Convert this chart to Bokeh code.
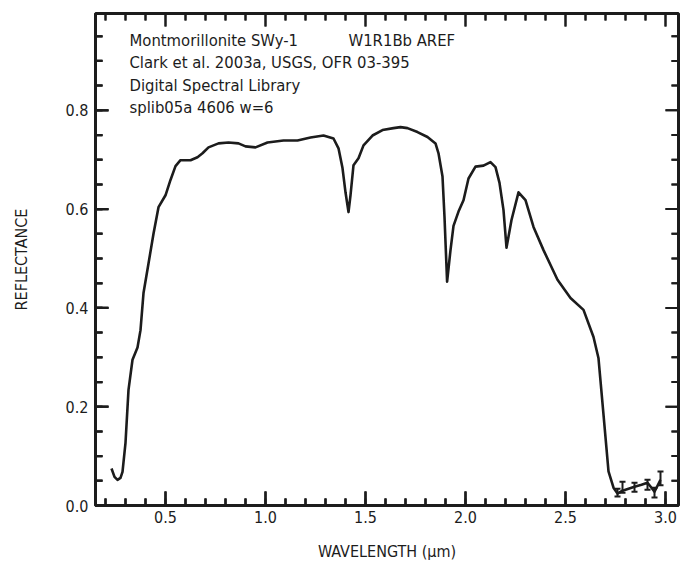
from bokeh.plotting import figure
from bokeh.models import (LinearAxis, SingleIntervalTicker, PrintfTickFormatter,
                          Range1d, Label, Whisker, ColumnDataSource, TeeHead)
from bokeh.embed import file_html
from bokeh.resources import INLINE

# ---- data ----
wavelength = [0.23, 0.245, 0.26, 0.275, 0.285, 0.30, 0.315, 0.335, 0.36, 0.375,
              0.39, 0.415, 0.44, 0.465, 0.50, 0.525, 0.55, 0.575, 0.625, 0.66,
              0.685, 0.715, 0.765, 0.815, 0.865, 0.90, 0.95, 1.01, 1.09, 1.16,
              1.225, 1.29, 1.34, 1.365, 1.385, 1.40, 1.415, 1.425, 1.44, 1.465,
              1.49, 1.535, 1.585, 1.64, 1.675, 1.71, 1.76, 1.81, 1.85, 1.865,
              1.885, 1.895, 1.908, 1.925, 1.94, 1.965, 1.99, 2.015, 2.05, 2.09,
              2.125, 2.15, 2.17, 2.19, 2.205, 2.23, 2.265, 2.30, 2.34, 2.39,
              2.46, 2.525, 2.59, 2.64, 2.665, 2.69, 2.715, 2.74, 2.76, 2.785,
              2.815, 2.845, 2.88, 2.91, 2.93, 2.945, 2.96, 2.975]
reflectance = [0.075, 0.058, 0.052, 0.056, 0.068, 0.127, 0.234, 0.295, 0.320, 0.355,
               0.430, 0.490, 0.550, 0.604, 0.628, 0.659, 0.687, 0.699, 0.699, 0.705,
               0.713, 0.725, 0.733, 0.735, 0.733, 0.727, 0.725, 0.735, 0.739, 0.739,
               0.745, 0.749, 0.743, 0.723, 0.683, 0.634, 0.594, 0.628, 0.689, 0.703,
               0.729, 0.749, 0.760, 0.764, 0.766, 0.764, 0.756, 0.746, 0.733, 0.713,
               0.666, 0.584, 0.453, 0.517, 0.566, 0.595, 0.618, 0.662, 0.686, 0.688,
               0.695, 0.685, 0.653, 0.598, 0.522, 0.578, 0.634, 0.618, 0.564, 0.517,
               0.457, 0.420, 0.396, 0.341, 0.298, 0.184, 0.069, 0.036, 0.024, 0.030,
               0.034, 0.038, 0.042, 0.046, 0.036, 0.028, 0.040, 0.052]

err_wavelength = [2.76, 2.785, 2.845, 2.91, 2.945, 2.975]
err_reflectance = [0.026, 0.037, 0.037, 0.042, 0.026, 0.055]
err_size = [0.008, 0.011, 0.009, 0.010, 0.010, 0.014]

title_lines = ["Montmorillonite SWy-1", "Clark et al. 2003a, USGS, OFR 03-395",
               "Digital Spectral Library", "splib05a 4606 w=6"]
record_label = "W1R1Bb AREF"
x_title = "WAVELENGTH (\u00b5m)"
y_title = "REFLECTANCE"

X0, X1 = 0.15, 3.065
Y0, Y1 = 0.0, 0.996
x_major = [0.5, 1.0, 1.5, 2.0, 2.5, 3.0]
x_minor = [0.2, 0.3, 0.4, 0.6, 0.7, 0.8, 0.9, 1.1, 1.2, 1.3, 1.4, 1.6, 1.7, 1.8, 1.9,
           2.1, 2.2, 2.3, 2.4, 2.6, 2.7, 2.8, 2.9]
y_major = [0.0, 0.2, 0.4, 0.6, 0.8]
y_minor = [0.05, 0.1, 0.15, 0.25, 0.3, 0.35, 0.45, 0.5, 0.55, 0.65, 0.7, 0.75,
           0.85, 0.9, 0.95]

FONT = "DejaVu Sans Condensed, Roboto Condensed, Liberation Sans"
INK = "#1c1c1c"

W, H = 686, 563
BL, BR, BT, BB = 95, 8, 13, 57

p = figure(width=W, height=H, output_backend="svg", toolbar_location=None,
           x_range=Range1d(X0, X1), y_range=Range1d(Y0, Y1),
           x_axis_type=None, y_axis_type=None,
           min_border_left=BL, min_border_right=BR, min_border_top=BT, min_border_bottom=BB)
p.background_fill_color = "white"
p.border_fill_color = "white"
p.outline_line_color = INK
p.outline_line_width = 3
p.xgrid.visible = False
p.ygrid.visible = False

# pixel -> data conversion for tick lengths
dx = (X1 - X0) / (W - BL - BR)
dy = (Y1 - Y0) / (H - BT - BB)


def style_axis(ax, major_in):
    ax.axis_line_color = INK
    ax.axis_line_width = 3
    ax.major_tick_line_color = INK
    ax.minor_tick_line_color = INK
    ax.major_tick_line_width = 2
    ax.minor_tick_line_width = 2
    ax.major_tick_in = major_in
    ax.major_tick_out = 0
    ax.minor_tick_in = 7
    ax.minor_tick_out = 0
    ax.major_label_text_font = FONT
    ax.major_label_text_font_size = "16px"
    ax.major_label_text_color = INK
    ax.axis_label_text_font = FONT
    ax.axis_label_text_font_size = "16px"
    ax.axis_label_text_font_style = "normal"
    ax.axis_label_text_color = INK


xb = LinearAxis(ticker=SingleIntervalTicker(interval=0.5, num_minor_ticks=5),
                formatter=PrintfTickFormatter(format="%.1f"), axis_label=x_title)
style_axis(xb, 14)
xb.major_label_standoff = 5
xb.axis_label_standoff = 16
p.add_layout(xb, "below")

yl = LinearAxis(ticker=SingleIntervalTicker(interval=0.2, num_minor_ticks=4),
                formatter=PrintfTickFormatter(format="%.1f"), axis_label=y_title)
style_axis(yl, 13)
yl.major_label_standoff = 7
yl.axis_label_standoff = 32
p.add_layout(yl, "left")

# ---- inward ticks on all four sides (kept 1px off the frame edge) ----
xt = x_major + x_minor
xl = [14] * len(x_major) + [7] * len(x_minor)
xl_top = [13] * len(x_major) + [7] * len(x_minor)
yt = y_major + y_minor
yln = [13] * len(y_major) + [7] * len(y_minor)

tick_sets = [
    # (x0, y0, x1, y1)
    (xt, [Y0 + 1 * dy] * len(xt), xt, [Y0 + L * dy for L in xl]),
    (xt, [Y1 - L * dy for L in xl_top], xt, [Y1 - 1 * dy] * len(xt)),
    ([X0 + 1 * dx] * len(yt), yt, [X0 + L * dx for L in yln], yt),
    ([X1 - L * dx for L in yln], yt, [X1 - 1 * dx] * len(yt), yt),
]
for x0, y0, x1, y1 in tick_sets:
    p.segment(x0=x0, y0=y0, x1=x1, y1=y1, line_color=INK, line_width=2)
    # same ticks as thin filled bars
    p.quad(left=[min(a, b) - (1 * dx if a == b else 0) for a, b in zip(x0, x1)],
           right=[max(a, b) + (1 * dx if a == b else 0) for a, b in zip(x0, x1)],
           bottom=[min(a, b) - (1 * dy if a != b or True else 0) * (0 if a != b else 1)
                   for a, b in zip(y0, y1)],
           top=[max(a, b) + (1 * dy) * (0 if a != b else 1) for a, b in zip(y0, y1)],
           fill_color=INK, line_color=None)

# ---- spectrum ----
p.line(wavelength, reflectance, line_color=INK, line_width=2.6, line_join="round")

# error bars on the noisy long-wave end
src = ColumnDataSource(dict(
    x=err_wavelength,
    lo=[r - e for r, e in zip(err_reflectance, err_size)],
    hi=[r + e for r, e in zip(err_reflectance, err_size)],
))
p.add_layout(Whisker(source=src, base="x", lower="lo", upper="hi", dimension="height",
                     line_color=INK, line_width=2,
                     upper_head=TeeHead(size=6, line_color=INK, line_width=2),
                     lower_head=TeeHead(size=6, line_color=INK, line_width=2)))

line_y = [0.941, 0.897, 0.851, 0.806]
for txt, yy in zip(title_lines, line_y):
    p.add_layout(Label(x=0.32, y=yy, text=txt, text_font=FONT,
                       text_font_size="16.5px", text_color=INK, text_baseline="middle"))
p.add_layout(Label(x=1.415, y=line_y[0], text=record_label, text_font=FONT,
                   text_font_size="16.5px", text_color=INK, text_baseline="middle"))

open("out.html", "w").write(file_html(p, INLINE))
